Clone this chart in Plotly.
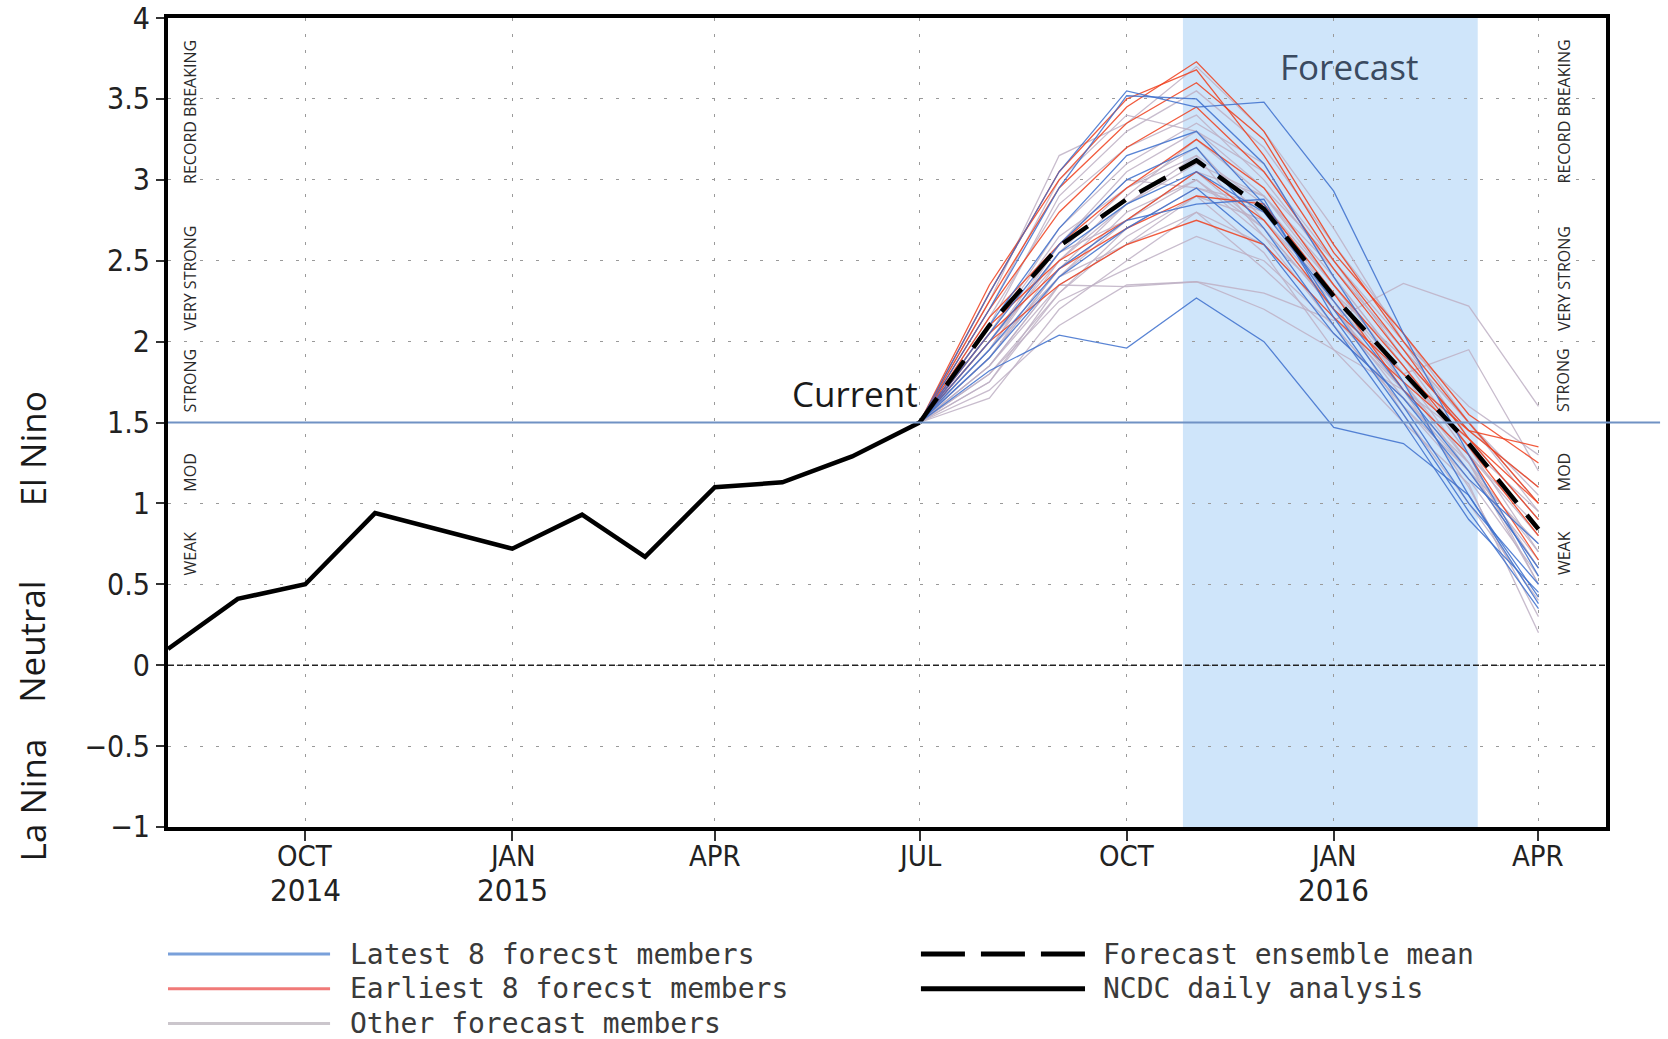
import plotly.graph_objects as go

# ---------------- data ----------------
obs_dates = ["2014-08-01", "2014-09-01", "2014-10-01", "2014-11-01", "2015-01-01",
             "2015-02-01", "2015-03-01", "2015-04-01", "2015-05-01", "2015-06-01",
             "2015-07-01"]
obs_values = [0.10, 0.41, 0.50, 0.94, 0.72, 0.93, 0.67, 1.10, 1.13, 1.29, 1.50]

fc_dates = ["2015-07-01", "2015-08-01", "2015-09-01", "2015-10-01", "2015-11-01",
            "2015-12-01", "2016-01-01", "2016-02-01", "2016-03-01", "2016-04-01"]
ens_mean = [1.50, 2.10, 2.59, 2.88, 3.12, 2.82, 2.28, 1.81, 1.37, 0.84]

latest_members = [
    [1.5, 1.82, 2.04, 1.96, 2.27, 2.00, 1.47, 1.37, 1.05, 0.42],
    [1.5, 2.30, 3.05, 3.55, 3.45, 3.48, 2.93, 2.05, 1.30, 0.55],
    [1.5, 2.20, 2.95, 3.52, 3.50, 3.10, 2.40, 1.75, 1.05, 0.38],
    [1.5, 2.10, 2.70, 3.15, 3.30, 2.85, 2.20, 1.60, 1.00, 0.50],
    [1.5, 2.00, 2.55, 2.85, 3.05, 2.80, 2.25, 1.70, 1.20, 0.60],
    [1.5, 1.95, 2.45, 2.75, 2.85, 2.88, 2.15, 1.55, 0.95, 0.35],
    [1.5, 2.05, 2.60, 3.00, 3.20, 2.70, 2.10, 1.50, 0.90, 0.45],
    [1.5, 1.90, 2.40, 2.70, 2.95, 2.60, 2.05, 1.65, 1.15, 0.75],
]

earliest_members = [
    [1.5, 2.35, 3.00, 3.45, 3.73, 3.30, 2.60, 2.00, 1.50, 1.00],
    [1.5, 2.30, 3.05, 3.50, 3.68, 3.15, 2.50, 1.95, 1.40, 0.90],
    [1.5, 2.25, 2.95, 3.35, 3.60, 3.25, 2.55, 2.05, 1.55, 1.25],
    [1.5, 2.20, 2.80, 3.20, 3.45, 3.05, 2.45, 1.90, 1.45, 1.10],
    [1.5, 2.15, 2.60, 2.95, 3.25, 2.95, 2.35, 1.85, 1.35, 0.80],
    [1.5, 2.10, 2.50, 2.75, 3.05, 2.75, 2.20, 1.80, 1.45, 1.35],
    [1.5, 2.05, 2.45, 2.70, 2.90, 2.85, 2.30, 1.70, 1.30, 0.65],
    [1.5, 2.00, 2.35, 2.60, 2.75, 2.60, 2.15, 1.75, 1.40, 1.00],
]

other_members = [
    [1.5, 1.70, 2.10, 2.35, 2.37, 2.20, 1.95, 1.70, 1.30, 0.85],
    [1.5, 1.75, 2.35, 2.34, 2.37, 2.30, 2.13, 2.36, 2.22, 1.60],
    [1.5, 2.25, 3.15, 3.35, 3.70, 3.30, 2.70, 2.00, 1.40, 0.90],
    [1.5, 2.10, 2.90, 3.30, 3.55, 3.20, 2.60, 2.05, 1.50, 1.00],
    [1.5, 2.00, 2.60, 3.05, 3.30, 3.05, 2.50, 1.90, 1.35, 0.70],
    [1.5, 1.95, 2.55, 2.95, 3.20, 2.75, 2.25, 1.75, 1.25, 0.60],
    [1.5, 1.90, 2.45, 2.85, 3.10, 2.90, 2.40, 1.85, 1.30, 0.50],
    [1.5, 1.85, 2.40, 2.80, 3.00, 2.70, 2.20, 1.70, 1.10, 0.30],
    [1.5, 1.80, 2.30, 2.70, 2.95, 2.80, 2.30, 1.80, 1.35, 0.95],
    [1.5, 2.05, 2.65, 2.95, 3.15, 2.65, 2.10, 1.60, 1.15, 0.55],
    [1.5, 1.90, 2.50, 2.90, 3.25, 2.90, 2.35, 1.80, 1.95, 1.20],
    [1.5, 1.95, 2.40, 2.60, 2.90, 2.55, 1.95, 1.50, 1.12, 0.20],
    [1.5, 2.00, 2.55, 2.75, 3.00, 2.65, 2.25, 1.55, 1.00, 0.40],
    [1.5, 1.85, 2.35, 2.60, 2.80, 2.45, 2.05, 1.65, 1.25, 0.70],
    [1.5, 2.15, 2.85, 3.20, 3.40, 3.00, 2.45, 1.95, 1.50, 1.05],
    [1.5, 1.80, 2.25, 2.45, 2.65, 2.50, 2.10, 1.60, 1.20, 0.65],
    [1.5, 2.20, 3.00, 3.40, 3.30, 2.95, 2.50, 2.00, 1.60, 1.30],
    [1.5, 1.65, 2.20, 2.50, 2.80, 2.60, 2.15, 1.70, 1.40, 0.90],
    [1.5, 1.95, 2.60, 3.00, 2.95, 2.85, 2.30, 1.75, 1.20, 0.75],
    [1.5, 2.05, 2.70, 3.10, 3.35, 3.10, 2.40, 1.85, 1.30, 0.80],
    [1.5, 1.90, 2.45, 2.75, 3.05, 2.70, 2.20, 1.65, 1.20, 0.60],
    [1.5, 1.75, 2.30, 2.65, 2.90, 2.75, 2.30, 1.90, 1.45, 1.10],
    [1.5, 2.00, 2.50, 2.85, 3.15, 2.85, 2.35, 1.80, 1.25, 0.50],
    [1.5, 1.85, 2.40, 2.75, 3.05, 2.90, 2.45, 1.95, 1.50, 0.95],
]

tick_dates = ["2014-10-01", "2015-01-01", "2015-04-01", "2015-07-01",
              "2015-10-01", "2016-01-01", "2016-04-01"]
tick_months = ["OCT", "JAN", "APR", "JUL", "OCT", "JAN", "APR"]
tick_years = ["2014", "2015", "", "", "", "2016", ""]

y_ticks = [4, 3.5, 3, 2.5, 2, 1.5, 1, 0.5, 0, -0.5, -1]
y_ticktext = ["4", "3.5", "3", "2.5", "2", "1.5", "1", "0.5", "0", "\u22120.5", "\u22121"]

strength_labels = [("RECORD BREAKING", 3.42), ("VERY STRONG", 2.39),
                   ("STRONG", 1.76), ("MOD", 1.19), ("WEAK", 0.69)]
phase_labels = [("El Nino", 1.34), ("Neutral", 0.15), ("La Nina", -0.83)]

forecast_window = ("2015-10-26", "2016-03-05")

# ---------------- styles ----------------
C_BLUE = "rgba(60,110,205,0.85)"
C_RED = "rgba(238,62,28,0.85)"
C_GRAY = "rgba(190,176,196,0.85)"
GRADS_FONT = "DejaVu Sans Condensed, Liberation Sans Narrow, sans-serif"
MONO_FONT = "DejaVu Sans Mono, Liberation Mono, monospace"
TEXT_FONT = "Open Sans, Noto Sans, sans-serif"

fig = go.Figure()

for vals in other_members:
    fig.add_trace(go.Scatter(x=fc_dates, y=vals, mode="lines",
                             line=dict(color=C_GRAY, width=1.3), hoverinfo="skip",
                             showlegend=False))
for vals in earliest_members:
    fig.add_trace(go.Scatter(x=fc_dates, y=vals, mode="lines",
                             line=dict(color=C_RED, width=1.3), hoverinfo="skip",
                             showlegend=False))
for vals in latest_members:
    fig.add_trace(go.Scatter(x=fc_dates, y=vals, mode="lines",
                             line=dict(color=C_BLUE, width=1.3), hoverinfo="skip",
                             showlegend=False))

fig.add_trace(go.Scatter(x=fc_dates, y=ens_mean, mode="lines",
                         line=dict(color="black", width=4.5, dash="30px,16px"),
                         showlegend=False))
fig.add_trace(go.Scatter(x=obs_dates, y=obs_values, mode="lines",
                         line=dict(color="black", width=4.5), showlegend=False))

# forecast window shading
fig.add_shape(type="rect", xref="x", yref="paper", x0=forecast_window[0],
              x1=forecast_window[1], y0=0, y1=1, fillcolor="#cfe5fa",
              line=dict(width=0), layer="below")
# zero line
fig.add_shape(type="line", xref="paper", yref="y", x0=0, x1=1, y0=0, y1=0,
              line=dict(color="#222", width=1.5, dash="6px,3px"))
# 1.5 threshold line, running past the right frame
fig.add_shape(type="line", xref="paper", yref="y", x0=0, x1=1.0376, y0=1.5, y1=1.5,
              line=dict(color="#7092c4", width=2))

annotations = []
# month / year labels under the x ticks
for d, m, yr in zip(tick_dates, tick_months, tick_years):
    annotations.append(dict(x=d, y=0, xref="x", yref="paper", text=m, showarrow=False,
                            yshift=-29, yanchor="middle",
                            font=dict(family=GRADS_FONT, size=29, color="#222")))
    if yr:
        annotations.append(dict(x=d, y=0, xref="x", yref="paper", text=yr,
                                showarrow=False, yshift=-63, yanchor="middle",
                                font=dict(family=GRADS_FONT, size=31, color="#222")))

for txt, yv in strength_labels:
    for xp in (0.0153, 0.9705):
        annotations.append(dict(x=xp, y=yv, xref="paper", yref="y", text=txt,
                                showarrow=False, textangle=-90, xanchor="center",
                                yanchor="middle",
                                font=dict(family=TEXT_FONT, size=16, color="#2a2a2a")))

for txt, yv in phase_labels:
    annotations.append(dict(x=-0.0946, y=yv, xref="paper", yref="y", text=txt,
                            showarrow=False, textangle=-90, xanchor="center",
                            yanchor="middle",
                            font=dict(family=TEXT_FONT, size=35, color="#1a1a1a")))

annotations.append(dict(x="2015-07-01", y=1.5, xref="x", yref="y", text="Current",
                        showarrow=False, xanchor="right", yanchor="bottom", yshift=4,
                        font=dict(family=TEXT_FONT, size=35, color="#1a1a1a")))
annotations.append(dict(x="2016-01-08", y=3.70, xref="x", yref="y", text="Forecast",
                        showarrow=False,
                        font=dict(family=TEXT_FONT, size=35, color="#3a4a60")))

# legend drawn below the plot
legend_rows = [-0.157, -0.200, -0.243]
legend_left = [("Latest 8 forecst members", "#79a0da", None),
               ("Earliest 8 forecst members", "#f07a78", None),
               ("Other forecast members", "#cbc6cc", None)]
legend_right = [("Forecast ensemble mean", "black", "44px,16px"),
                ("NCDC daily analysis", "black", None)]

for (txt, col, dash), yp in zip(legend_left, legend_rows):
    fig.add_shape(type="line", xref="paper", yref="paper", x0=0, x1=0.1127, y0=yp, y1=yp,
                  line=dict(color=col, width=3))
    annotations.append(dict(x=0.1252, y=yp, xref="paper", yref="paper", text=txt,
                            showarrow=False, xanchor="left", yanchor="middle",
                            font=dict(family=MONO_FONT, size=28, color="#3a3a3a")))
for (txt, col, dash), yp in zip(legend_right, legend_rows):
    ln = dict(color=col, width=5)
    if dash:
        ln["dash"] = dash
    fig.add_shape(type="line", xref="paper", yref="paper", x0=0.5236, x1=0.6377, y0=yp, y1=yp,
                  line=ln)
    annotations.append(dict(x=0.6488, y=yp, xref="paper", yref="paper", text=txt,
                            showarrow=False, xanchor="left", yanchor="middle",
                            font=dict(family=MONO_FONT, size=28, color="#3a3a3a")))

fig.update_layout(
    width=1668, height=1039,
    margin=dict(l=168, r=62, t=18, b=212),
    paper_bgcolor="white", plot_bgcolor="white",
    showlegend=False,
    annotations=annotations,
    xaxis=dict(type="date", range=["2014-08-01", "2016-05-01"], automargin=False,
               tickmode="array", tickvals=tick_dates, showticklabels=False,
               ticks="outside", ticklen=10, tickwidth=1.5, tickcolor="#333",
               showline=True, linecolor="black", linewidth=4, mirror=True,
               showgrid=True, gridcolor="#9a9a9a", gridwidth=1, griddash="3px,13px",
               zeroline=False),
    yaxis=dict(range=[-1.0005, 4.0005], automargin=False, tickmode="array",
               tickvals=y_ticks, ticktext=y_ticktext,
               ticks="outside", ticklen=8, tickwidth=1.5, tickcolor="#333",
               showline=True, linecolor="black", linewidth=4, mirror=True,
               showgrid=True, gridcolor="#9a9a9a", gridwidth=1, griddash="3px,13px",
               zeroline=False,
               tickfont=dict(family=GRADS_FONT, size=30, color="#222")),
)

fig.write_html("out.html")
